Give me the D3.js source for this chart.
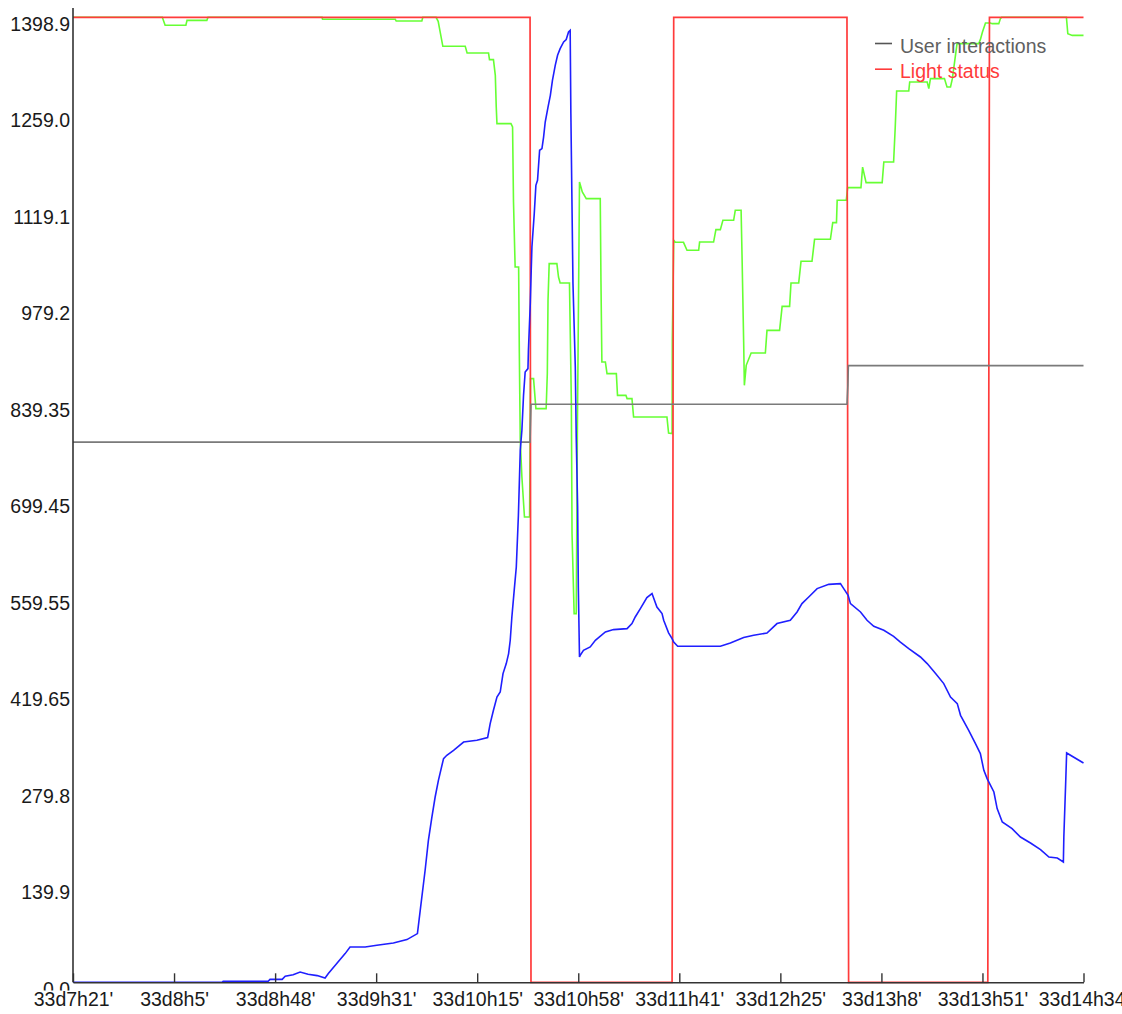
<!DOCTYPE html>
<html>
<head>
<meta charset="utf-8">
<script src="https://cdn.jsdelivr.net/npm/d3@7/dist/d3.min.js"></script>
<style>
  html, body { margin: 0; padding: 0; background: #fff; }
  svg { display: block; }
  text { font-family: "Liberation Sans", Arial, sans-serif; }
</style>
</head>
<body>
<svg id="chart" width="1122" height="1014"></svg>
<script>
// Time is given in minutes after 33d7h21'.
const xTickMinutes = [0, 43.33, 86.67, 130, 173.33, 216.67, 260, 303.33, 346.67, 390, 433.33];
const xTickLabels = ["33d7h21'", "33d8h5'", "33d8h48'", "33d9h31'", "33d10h15'", "33d10h58'",
                     "33d11h41'", "33d12h25'", "33d13h8'", "33d13h51'", "33d14h34'"];
const yTickValues = [0, 139.89, 279.78, 419.67, 559.56, 699.45, 839.34, 979.23, 1119.12, 1259.01, 1398.9];
const yTickLabels = ["0.0", "139.9", "279.8", "419.65", "559.55", "699.45", "839.35", "979.2", "1119.1", "1259.0", "1398.9"];
const yMax = 1398.9;

const legendNames = ["User interactions", "Light status"];

// Light on/off, drawn at full scale.
const lightStatus = [
  [0, 1398.9], [196.0, 1398.9], [196.4, 0], [256.9, 0], [257.6, 1398.9],
  [331.9, 1398.9], [332.6, 0], [392.3, 0], [393.0, 1398.9], [433.33, 1398.9]
];

// Cumulative user interactions.
const userInteractions = [
  [0, 783], [196.0, 783], [196.4, 837.9], [331.9, 837.9], [332.3, 866], [332.5, 894], [433.33, 894]
];

// Green sensor trace.
const greenTrace = [
  [0, 1398.9], [38.3, 1398.9], [39.5, 1387.3], [48.4, 1387.3], [48.9, 1394.5], [57.4, 1394.5],
  [57.9, 1398.9], [106.8, 1398.9], [107.0, 1396.0], [138.2, 1396.0], [138.6, 1393.5], [149.6, 1393.5],
  [150.0, 1398.9], [155.7, 1398.9], [156.6, 1393.1], [158.6, 1356.9], [168.2, 1356.9], [169.0, 1347.1],
  [178.2, 1347.1], [178.6, 1337.5], [180.3, 1337.5], [181.1, 1314.8], [181.5, 1268.8], [181.8, 1244.8],
  [187.8, 1244.8], [188.5, 1239.9], [188.9, 1131.1], [189.6, 1036.9], [191.1, 1036.9], [191.4, 911.4],
  [191.8, 785.7], [192.5, 732.5], [193.6, 674.5], [195.8, 674.5], [196.2, 875.1], [197.5, 875.1],
  [198.5, 831.6], [202.9, 831.6], [203.4, 882.4], [203.7, 988.6], [204.2, 1041.8], [207.5, 1041.8],
  [208.2, 1022.4], [208.9, 1013.7], [212.9, 1013.7], [213.7, 843.7], [214.0, 650.4], [214.9, 534.5],
  [215.8, 534.5], [216.3, 800], [217.2, 1160.1], [218.4, 1145.6], [220.1, 1136.1], [226.1, 1136.1],
  [226.4, 1017.6], [226.8, 899.2], [228.3, 899.2], [229.0, 882.4], [233.0, 882.4], [233.5, 850.9],
  [237.1, 850.9], [237.6, 846.1], [239.7, 846.1], [240.4, 819.5], [254.7, 819.5], [255.4, 796.3],
  [256.9, 795.4], [257.0, 930.6], [257.6, 1075.6], [258.3, 1072.7], [261.8, 1072.7], [263.3, 1061.1],
  [268.3, 1061.1], [268.7, 1073.1], [274.7, 1073.1], [275.7, 1091.1], [277.6, 1091.1], [278.7, 1104.6],
  [283.3, 1104.6], [284.0, 1119.1], [286.5, 1119.1], [286.9, 1053.9], [287.6, 928.2], [287.9, 865.4],
  [288.7, 894.4], [290.8, 912.2], [296.9, 912.2], [297.6, 945.1], [303.0, 945.1], [304.1, 979.9],
  [307.3, 979.9], [307.9, 1013.7], [311.2, 1013.7], [312.2, 1045.2], [316.9, 1045.2], [318.0, 1077.1],
  [324.8, 1077.1], [325.8, 1101.3], [327.4, 1101.3], [327.7, 1133.6], [331.6, 1133.6], [332.2, 1152.0],
  [337.9, 1152.0], [338.6, 1181.8], [340.1, 1159.2], [347.0, 1159.2], [347.7, 1189.1], [351.9, 1189.1],
  [352.6, 1240], [353.2, 1292.0], [358.4, 1292.0], [358.8, 1305.1], [366.3, 1305.1], [367.0, 1295.5],
  [367.7, 1310.0], [373.7, 1310.0], [374.8, 1297.8], [376.3, 1297.8], [377.1, 1310.0], [379.1, 1360.7],
  [388.4, 1360.7], [389.1, 1366.5], [390.0, 1377.5], [391.3, 1390.6], [393.4, 1390.6], [394.2, 1389.7],
  [397.0, 1389.7], [397.7, 1397.0], [398.2, 1398.9], [426.0, 1398.9], [426.6, 1375.2], [428.5, 1372.7],
  [433.33, 1372.7]
];

// Blue sensor trace.
const blueTrace = [
  [0, 0], [63.9, 0], [64.4, 1.5], [83.7, 1.5], [84.5, 4.3], [89.7, 4.3], [91.0, 8.7], [94.4, 10.9],
  [97.4, 14.9], [100.8, 11.6], [104.7, 9.7], [108.1, 6.2], [109.5, 12.6], [113.1, 27.1], [116.7, 41.6],
  [118.8, 51.2], [125.3, 51.2], [130.3, 53.6], [137.4, 57.0], [143.2, 61.9], [147.7, 70.6], [148.9, 104.4],
  [151.0, 162.4], [152.4, 205.8], [153.9, 239.6], [155.3, 268.6], [156.7, 292.8], [158.9, 324.3],
  [160.3, 329.1], [163.2, 336.3], [167.5, 348.3], [173.2, 350.8], [177.8, 354.7], [178.9, 375.0],
  [180.3, 394.3], [181.8, 413.6], [183.2, 420.8], [184.4, 447.5], [185.8, 462.0], [186.8, 476.5],
  [187.5, 495.8], [188.2, 529.5], [189.2, 568.2], [190.1, 602.0], [191.0, 677.0], [191.8, 771.2],
  [192.5, 800.2], [193.2, 850.9], [193.9, 884.7], [195.1, 889.6], [195.3, 916.2], [196.1, 984.3],
  [196.5, 1032.1], [196.8, 1065.9], [197.8, 1114.3], [198.5, 1155.3], [199.2, 1162.6], [200.1, 1206.1],
  [201.1, 1208.5], [201.8, 1225.3], [202.5, 1247.1], [203.7, 1268.8], [204.7, 1285.8], [205.6, 1307.5],
  [206.8, 1329.3], [207.8, 1343.8], [208.9, 1353.5], [210.4, 1363.1], [211.5, 1366.6], [212.5, 1377.6],
  [213.2, 1380.0], [213.5, 1259.3], [214.4, 1012.9], [215.4, 891.9], [215.8, 790.5], [216.4, 689.0],
  [216.7, 573.0], [217.2, 471.6], [217.5, 474.0], [218.9, 481.3], [221.8, 486.1], [224.0, 495.8],
  [228.3, 507.8], [231.8, 511.3], [237.6, 512.7], [239.7, 520.0], [241.1, 529.6], [243.3, 541.7],
  [246.1, 557.7], [248.3, 563.5], [250.4, 544.0], [252.6, 534.5], [253.3, 524.8], [255.4, 506.6],
  [256.9, 498.2], [257.6, 493.3], [259.3, 487.1], [277.6, 487.1], [281.9, 491.9], [287.6, 499.7],
  [291.9, 503.0], [297.6, 506.3], [301.9, 520.0], [307.6, 524.8], [310.5, 536.8], [312.6, 549.0],
  [315.5, 558.5], [319.1, 570.7], [324.1, 576.9], [329.1, 578.0], [330.5, 570.7], [332.4, 561.0],
  [333.4, 548.9], [337.7, 536.8], [340.5, 524.8], [343.4, 516.1], [347.7, 510.3], [351.9, 501.6],
  [354.8, 493.3], [358.4, 483.7], [363.4, 471.6], [366.3, 462.0], [369.9, 447.5], [373.4, 433.0],
  [376.3, 413.6], [379.2, 404.0], [380.6, 387.0], [384.1, 365.3], [387.0, 346.0], [389.1, 331.5],
  [390.6, 307.3], [392.0, 295.3], [394.9, 275.9], [396.3, 251.8], [398.5, 232.4], [402.7, 222.8],
  [406.3, 210.6], [410.6, 201.9], [414.9, 192.4], [418.5, 181.6], [422.1, 180.2], [424.7, 174.4],
  [424.9, 210.6], [425.7, 290.4], [426.1, 332.4], [433.33, 317.9]
];

const colors = {
  light: "#ff3b3b",
  users: "#7a7a7a",
  green: "#66ff33",
  blue: "#1f1fff",
  axis: "#333333",
  text: "#1a1a1a"
};

const svg = d3.select("#chart");
const plot = { left: 73, right: 1083.5, top: 17.3, bottom: 982.3 };

const x = d3.scaleLinear().domain([0, 433.33]).range([plot.left, plot.right]);
const y = d3.scaleLinear().domain([0, yMax]).range([plot.bottom, plot.top]);

const line = d3.line().x(d => x(d[0])).y(d => y(d[1]));

// Series, bottom to top
const seriesLayer = svg.append("g");
[
  [greenTrace, colors.green, 1.6],
  [lightStatus, colors.light, 1.7],
  [userInteractions, colors.users, 1.6],
  [blueTrace, colors.blue, 1.6]
].forEach(([data, color, w]) => {
  seriesLayer.append("path")
    .datum(data)
    .attr("fill", "none")
    .attr("stroke", color)
    .attr("stroke-width", w)
    .attr("stroke-linejoin", "miter")
    .attr("d", line);
});

// X axis with inward ticks
const xAxis = d3.axisBottom(x)
  .tickValues(xTickMinutes)
  .tickSize(-9)
  .tickSizeOuter(0)
  .tickPadding(0)
  .tickFormat((d, i) => xTickLabels[i]);

const gx = svg.append("g")
  .attr("transform", `translate(0,${plot.bottom})`)
  .call(xAxis);
gx.select(".domain").attr("stroke", colors.axis).attr("stroke-width", 1.6);
gx.selectAll(".tick line").attr("stroke", colors.axis).attr("stroke-width", 1.4);
gx.selectAll(".tick text")
  .attr("y", 23.5)
  .attr("dy", null)
  .attr("fill", colors.text)
  .style("font-size", "19.5px")
  .style("font-family", "'Liberation Sans', Arial, sans-serif");

// Y axis: labels hang below their value, no tick marks
const yAxis = d3.axisLeft(y)
  .tickValues(yTickValues)
  .tickSize(0)
  .tickPadding(3)
  .tickFormat((d, i) => yTickLabels[i]);

const gy = svg.append("g")
  .attr("transform", `translate(${plot.left},0)`)
  .call(yAxis);
gy.select(".domain").remove();
gy.selectAll(".tick text")
  .attr("dy", "13px")
  .attr("fill", colors.text)
  .style("font-size", "19.5px")
  .style("font-family", "'Liberation Sans', Arial, sans-serif");

// The lowest label runs under the time labels; only its top part shows.
const zeroTick = gy.selectAll(".tick").filter(d => d === 0);
zeroTick.append("clipPath").attr("id", "zero-clip")
  .append("rect").attr("x", -80).attr("y", -10).attr("width", 80).attr("height", 17.7);
zeroTick.select("text").attr("clip-path", "url(#zero-clip)");

svg.append("line")
  .attr("x1", plot.left).attr("x2", plot.left)
  .attr("y1", 8).attr("y2", plot.bottom)
  .attr("stroke", colors.axis)
  .attr("stroke-width", 1.6);

// Legend
const legend = svg.append("g").attr("transform", "translate(875,0)");
const legendTextColors = ["#606060", "#ff3b3b"];
legendNames.forEach((name, i) => {
  const cy = 43.5 + i * 25.7;
  legend.append("line")
    .attr("x1", 0).attr("x2", 17)
    .attr("y1", cy).attr("y2", cy)
    .attr("stroke", i === 0 ? "#555555" : colors.light)
    .attr("stroke-width", 1.6);
  legend.append("text")
    .attr("x", 25)
    .attr("y", cy + 9)
    .attr("fill", legendTextColors[i])
    .style("font-size", "19.5px")
    .text(name);
});
</script>
</body>
</html>
